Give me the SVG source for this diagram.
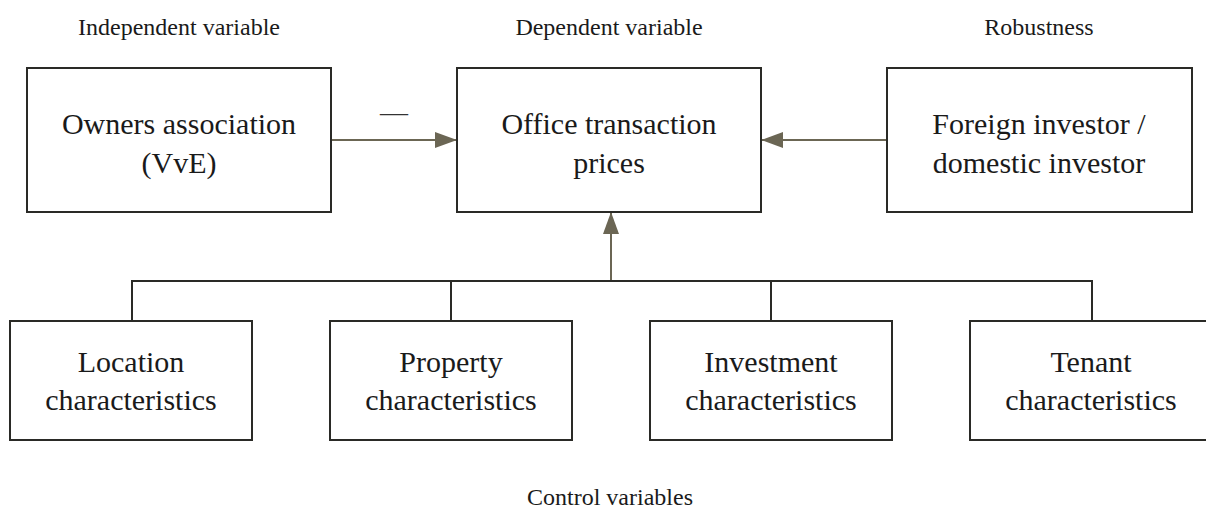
<svg xmlns="http://www.w3.org/2000/svg" width="1206" height="511" viewBox="0 0 1206 511">
<style>
.box{fill:#fff;stroke:#2a2a26;stroke-width:2}
.t{font-family:"Liberation Serif","Times New Roman",serif;font-size:30px;fill:#1a1a1a;text-anchor:middle}
.lbl{font-family:"Liberation Serif","Times New Roman",serif;font-size:24px;fill:#1a1a1a;text-anchor:middle}
.ln{stroke:#6b6654;stroke-width:2;fill:none}
.bus{stroke:#2a2a26;stroke-width:2;fill:none}
</style>
<defs>
<marker id="ah" viewBox="0 0 22 16" refX="22" refY="8" markerWidth="22" markerHeight="16" markerUnits="userSpaceOnUse" orient="auto">
<path d="M0,0 L22,8 L0,16 Z" fill="#6b6654"/>
</marker>
</defs>
<rect width="1206" height="511" fill="#fff"/>
<text class="lbl" x="179" y="35">Independent variable</text>
<text class="lbl" x="609" y="35">Dependent variable</text>
<text class="lbl" x="1039" y="35">Robustness</text>
<text class="lbl" x="610" y="505">Control variables</text>
<g id="connectors">
<line class="ln" x1="331" y1="140" x2="457" y2="140" marker-end="url(#ah)"/>
<line class="ln" x1="887" y1="140" x2="761" y2="140" marker-end="url(#ah)"/>
<line class="ln" x1="611" y1="281" x2="611" y2="212" marker-end="url(#ah)"/>
<path class="bus" d="M132,321 V281 H1092 V321 M451,281 V321 M771,281 V321"/>
<text x="394" y="121" style="font-family:'Liberation Serif',serif;font-size:28px;fill:#333;text-anchor:middle">—</text>
</g>
<g id="owners">
<rect class="box" x="27" y="68" width="304" height="144"/>
<text class="t" x="179" y="134">Owners association</text>
<text class="t" x="179" y="173">(VvE)</text>
</g>
<g id="office">
<rect class="box" x="457" y="68" width="304" height="144"/>
<text class="t" x="609" y="134">Office transaction</text>
<text class="t" x="609" y="173">prices</text>
</g>
<g id="foreign">
<rect class="box" x="887" y="68" width="305" height="144"/>
<text class="t" x="1039" y="134">Foreign investor /</text>
<text class="t" x="1039" y="173">domestic investor</text>
</g>
<g id="location">
<rect class="box" x="10" y="321" width="242" height="119"/>
<text class="t" x="131" y="372">Location</text>
<text class="t" x="131" y="410">characteristics</text>
</g>
<g id="property">
<rect class="box" x="330" y="321" width="242" height="119"/>
<text class="t" x="451" y="372">Property</text>
<text class="t" x="451" y="410">characteristics</text>
</g>
<g id="investment">
<rect class="box" x="650" y="321" width="242" height="119"/>
<text class="t" x="771" y="372">Investment</text>
<text class="t" x="771" y="410">characteristics</text>
</g>
<g id="tenant">
<rect class="box" x="970" y="321" width="242" height="119"/>
<text class="t" x="1091" y="372">Tenant</text>
<text class="t" x="1091" y="410">characteristics</text>
</g>
</svg>
